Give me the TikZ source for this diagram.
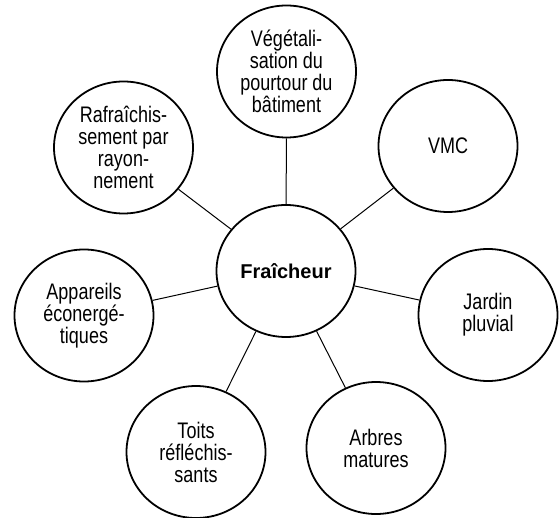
\documentclass[tikz,border=0pt]{standalone}
\usepackage{fontspec}
\setmainfont{Liberation Sans}[FakeStretch=0.8]
\newfontfamily\hubfont{Liberation Sans}
\usepackage{tikz}
\usetikzlibrary{shapes,arrows,positioning,calc}

\tikzset{
  bubble/.style={ellipse, draw=black, line width=1.8pt, minimum width=139pt,
    minimum height=132pt, inner sep=0pt, align=center,
    font=\fontsize{22.5}{22}\selectfont},
  link/.style={draw=black, line width=1pt}
}

\begin{document}
\begin{tikzpicture}[x=1pt,y=-1pt]
            % fix the page
            \useasboundingbox (0,0) rectangle (559,518);
            % draw the centre
            \node[bubble, font=\hubfont\bfseries\fontsize{20}{20}\selectfont] (fraicheur) at (286,271) {Fraîcheur};
            % draw the outer bubbles
            \node[bubble] (vegetal) at (286.5,71.5) {Végétali-\\sation du\\pourtour du\\bâtiment};
            \node[bubble] (vmc) at (448,146) {VMC};
            \node[bubble] (jardin) at (488,315) {Jardin\\pluvial};
            \node[bubble] (arbres) at (376,448) {Arbres\\matures};
            \node[bubble] (toits) at (196,452) {Toits\\réfléchis-\\sants};
            \node[bubble] (appareils) at (84,315.5) {Appareils\\éconergé-\\tiques};
            \node[bubble] (rafraich) at (123.5,147.5) {Rafraîchis-\\sement par\\rayon-\\nement};
            % draw the links
            \foreach \n in {vegetal,vmc,jardin,arbres,toits,appareils,rafraich}
            \draw[link] (fraicheur) -- (\n);
        \end{tikzpicture}
\end{document}
